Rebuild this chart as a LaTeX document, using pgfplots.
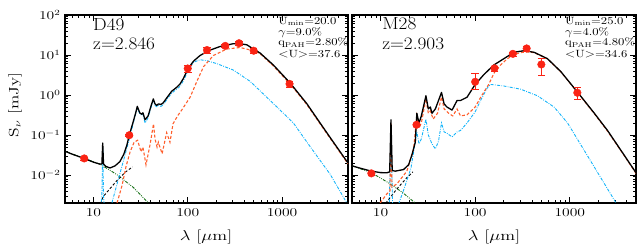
\documentclass[border=0pt]{standalone}
\usepackage{graphicx}
\usepackage{pgfplots}
\pgfplotsset{compat=1.18}
\definecolor{cred}{RGB}{250,35,20}
\definecolor{corange}{RGB}{255,95,45}
\definecolor{cblue}{RGB}{20,180,250}
\definecolor{cgreen}{RGB}{20,110,20}
\newcommand\W[1]{\scalebox{1.3}[1]{#1}}
\newcommand\V[1]{\scalebox{1.1}[1]{#1}}
\newcommand\Q[1]{\scalebox{1.2}[1]{#1}}
\tikzset{
  tot/.style={black, line width=1.3pt, line join=round},
  cold/.style={corange, line width=1.1pt, dash pattern=on 3pt off 2pt},
  pdr/.style={cblue, line width=0.9pt, dash pattern=on 3pt off 1.3pt on 0.8pt off 1.3pt},
  star/.style={cgreen, line width=0.9pt, dash pattern=on 3pt off 1.3pt on 0.8pt off 1.3pt on 0.8pt off 1.3pt},
  hot/.style={black, line width=0.9pt, dash pattern=on 2.5pt off 2pt},
  big/.style={anchor=base west, inner sep=0pt, font=\fontsize{17.5}{19}\selectfont},
  par/.style={anchor=base west, inner sep=0pt, font=\fontsize{10.5}{11}\selectfont},
}
\begin{document}
\begin{tikzpicture}[x=1pt,y=1pt]
\useasboundingbox (0,0) rectangle (642,248);
% ---------------- left panel: D49 ----------------
\begin{axis}[at={(65pt,45pt)}, anchor=south west, width=283pt,
    scale only axis, height=188pt,
    xmode=log, ymode=log, xmin=5, xmax=5000, ymin=2e-3, ymax=100,
    axis line style={line width=1.1pt},
    tick align=inside, major tick length=6pt, minor tick length=3pt,
    tick style={black, line width=0.8pt},
    xtick={10,100,1000}, xticklabels={\W{10},\W{100},\W{1000}},
    minor xtick={6,7,8,9,20,30,40,50,60,70,80,90,200,300,400,500,600,700,800,900,2000,3000,4000},
    ytick={0.01,0.1,1,10,100},
    yticklabels={\W{10$^{-2}$},\W{10$^{-1}$},\W{10$^{0}$},\W{10$^{1}$},\W{10$^{2}$}},
    minor ytick={0.003,0.004,0.005,0.006,0.007,0.008,0.009,0.02,0.03,0.04,0.05,0.06,0.07,0.08,0.09,0.2,0.3,0.4,0.5,0.6,0.7,0.8,0.9,2,3,4,5,6,7,8,9,20,30,40,50,60,70,80,90},
    tick label style={font=\fontsize{12}{13}\selectfont},
    xticklabel style={yshift=-2pt}, yticklabel style={xshift=-1pt}]
\addplot[star, no marks] coordinates {(5,0.0394) (8,0.026) (11.75,0.0187) (17.7,0.0103) (26.5,0.0049) (36.8,0.0022) (42,0.0016)};
\addplot[hot, no marks] coordinates {(11.5,0.0015) (12.7,0.0029) (17.7,0.0072) (22,0.012) (26,0.016)};
\addplot[pdr, no marks] coordinates {(11.5,0.0005) (12.3,0.003) (12.56,0.05) (12.8,0.003) (13.5,0.0006) (15.7,0.002) (18.2,0.0072) (20.7,0.0217) (22.8,0.05) (24.6,0.097) (26.5,0.2) (28,0.33) (29.2,0.49) (31,0.34) (32.5,0.31) (33.5,0.33) (35.3,0.2) (38,0.27) (41,0.5) (43,0.72) (45,0.55) (46.9,0.51) (49,0.55) (52,0.52) (55,0.57) (60,0.77) (67.7,1.12) (75,1.35) (83,1.65) (90,2.3) (101,4.0) (115,6.6) (135,7.6) (160,7.2) (203,6.1) (305,4.2) (458,2.2) (689,0.88) (1033,0.35) (1318,0.2) (2000,0.05) (3230,0.0105) (4860,0.002) (6000,0.0008)};
\addplot[cold, no marks] coordinates {(17.8,0.002) (20.1,0.0054) (22.2,0.0165) (24.5,0.038) (27,0.066) (29.4,0.074) (32,0.038) (33.5,0.05) (36.1,0.018) (40,0.06) (43.4,0.19) (45,0.08) (47.3,0.05) (48.8,0.066) (53.5,0.034) (59.8,0.115) (64.8,0.066) (69.8,0.19) (78,0.3) (86.3,0.42) (106,0.88) (125,2.2) (147,5.1) (187,9.7) (259,14.1) (359,15.4) (497,12.8) (585,10.8) (810,5.3) (1217,1.9) (1828,0.58) (2530,0.19) (3230,0.083) (5000,0.019)};
\addplot[tot, no marks] coordinates {(5,0.0394) (6,0.033) (8,0.026) (10,0.021) (11.75,0.0187) (12.3,0.019) (12.56,0.063) (12.8,0.019) (13.5,0.0165) (15,0.015) (17,0.017) (19.1,0.0217) (21,0.033) (22.6,0.055) (24,0.099) (26.5,0.22) (28,0.35) (29.2,0.52) (31,0.36) (32.5,0.33) (33.5,0.36) (35.3,0.24) (38,0.3) (41,0.55) (43.2,0.80) (45,0.6) (46.9,0.55) (49,0.6) (52,0.58) (55,0.64) (60,0.85) (67.7,1.25) (75,1.5) (83,1.9) (90,2.6) (101,4.6) (115,7.0) (135,9.7) (166,12.8) (220,16.3) (305,19.2) (350,19.3) (423,18.0) (500,14.0) (585,11.2) (810,5.6) (1217,2.0) (1828,0.61) (2530,0.2) (3230,0.087) (5000,0.02)};
\addplot[only marks, mark=*, mark size=3.8pt, color=cred,
  error bars/.cd, y dir=both, y explicit,
  error bar style={cred, line width=0.8pt}]
  coordinates {(8,0.026) +- (0,0.002) (24,0.099) +- (0,0.008) (100,4.6) +- (0,0.9) (160,13.3) +- (0,2.5) (250,16.9) +- (0,1.5) (350,19.7) +- (0,2) (500,12.8) +- (0,2) (1200,1.9) +- (0,0.3)};
\node[big] at (rel axis cs:0.099,0.92) {\V{D49}};
\node[big] at (rel axis cs:0.099,0.814) {\V{z=2.846}};
\node[par] at (rel axis cs:0.753,0.952) {\Q{U$_{\rm min}$=20.0}};
\node[par] at (rel axis cs:0.753,0.893) {\Q{$\gamma$=9.0\%}};
\node[par] at (rel axis cs:0.753,0.836) {\Q{q$_{\rm PAH}$=2.80\%}};
\node[par] at (rel axis cs:0.753,0.772) {\Q{$<$U$>$=37.6}};
\end{axis}
% ---------------- right panel: M28 ----------------
\begin{axis}[at={(352pt,45pt)}, anchor=south west, width=284pt, yticklabels={},
    scale only axis, height=188pt,
    xmode=log, ymode=log, xmin=5, xmax=5000, ymin=2e-3, ymax=100,
    axis line style={line width=1.1pt},
    tick align=inside, major tick length=6pt, minor tick length=3pt,
    tick style={black, line width=0.8pt},
    xtick={10,100,1000}, xticklabels={\W{10},\W{100},\W{1000}},
    minor xtick={6,7,8,9,20,30,40,50,60,70,80,90,200,300,400,500,600,700,800,900,2000,3000,4000},
    ytick={0.01,0.1,1,10,100},
    minor ytick={0.003,0.004,0.005,0.006,0.007,0.008,0.009,0.02,0.03,0.04,0.05,0.06,0.07,0.08,0.09,0.2,0.3,0.4,0.5,0.6,0.7,0.8,0.9,2,3,4,5,6,7,8,9,20,30,40,50,60,70,80,90},
    tick label style={font=\fontsize{12}{13}\selectfont},
    xticklabel style={yshift=-2pt}]
\addplot[star, no marks] coordinates {(5,0.017) (8,0.0115) (12,0.0065) (17,0.0037) (23.3,0.002) (26,0.0016)};
\addplot[hot, no marks] coordinates {(10,0.0013) (12.1,0.0024) (14.9,0.0045) (19,0.0086) (22,0.012)};
\addplot[pdr, no marks] coordinates {(12.3,0.001) (12.9,0.1) (13.5,0.001) (15,0.0015) (18,0.005) (21,0.015) (24.2,0.12) (25.5,0.06) (27,0.08) (30.2,0.25) (32,0.1) (35,0.06) (38,0.045) (41,0.07) (44.1,0.2) (47,0.12) (50.4,0.11) (57,0.09) (64.4,0.12) (70,0.13) (82,0.2) (100,0.38) (114,0.73) (134,1.5) (145,1.84) (201,1.68) (302,1.4) (454,0.96) (682,0.5) (946,0.2) (1540,0.03) (3080,0.002) (4000,0.0007)};
\addplot[cold, no marks] coordinates {(9.9,0.002) (11.7,0.0034) (12.6,0.004) (12.9,0.2) (13.2,0.005) (14.9,0.006) (19,0.0125) (22.4,0.046) (24.2,0.3) (25.5,0.15) (27,0.2) (30.2,0.8) (32,0.35) (33.6,0.4) (36,0.25) (40,0.35) (44.1,0.9) (47,0.45) (52.5,0.35) (58,0.3) (64.4,0.45) (70,0.3) (82,0.32) (100,0.5) (115,0.9) (139,1.84) (160,3.7) (185,5.6) (218,8.0) (257,10.2) (302,11.5) (350,11.9) (419,11.5) (580,8.0) (803,3.8) (1220,1.12) (1815,0.34) (2500,0.125) (3500,0.039) (5000,0.011)};
\addplot[tot, no marks] coordinates {(5,0.017) (6,0.015) (8,0.0125) (10,0.0115) (11.7,0.0114) (12.5,0.012) (12.9,0.24) (13.3,0.013) (14.3,0.0125) (17.5,0.0137) (19.8,0.018) (21.5,0.032) (23.3,0.066) (24.2,0.35) (25.5,0.2) (27,0.3) (30.2,0.96) (32,0.45) (33.6,0.5) (35,0.35) (38,0.45) (44.1,1.16) (47,0.6) (50.4,0.5) (57,0.42) (64.4,0.73) (70,0.73) (82,0.88) (100,1.84) (123,3.2) (157,5.6) (201,8.1) (257,11.7) (327,12.8) (419,11.7) (580,8.1) (803,3.85) (1220,1.14) (1815,0.35) (2500,0.13) (3500,0.04) (5000,0.0114)};
\addplot[only marks, mark=*, mark size=3.8pt, color=cred,
  error bars/.cd, y dir=both, y explicit,
  error bar style={cred, line width=0.8pt}]
  coordinates {(8,0.011) +- (0,0.001) (24,0.18) +- (0,0.015) (100,2.14) += (0,1.4) -= (0,0.75) (160,4.65) +- (0,0.6) (250,10.7) +- (0,1.2) (350,14.6) +- (0,2) (500,5.8) += (0,2.4) -= (0,2.6) (1200,1.14) += (0,0.42) -= (0,0.34)};
\node[big] at (rel axis cs:0.106,0.925) {\V{M28}};
\node[big] at (rel axis cs:0.106,0.819) {\V{z=2.903}};
\node[par] at (rel axis cs:0.75,0.952) {\Q{U$_{\rm min}$=25.0}};
\node[par] at (rel axis cs:0.75,0.893) {\Q{$\gamma$=4.0\%}};
\node[par] at (rel axis cs:0.75,0.836) {\Q{q$_{\rm PAH}$=4.80\%}};
\node[par] at (rel axis cs:0.75,0.772) {\Q{$<$U$>$=34.6}};
\end{axis}
% ---------------- axis titles ----------------
\node[rotate=90] at (15,143) {\fontsize{13.5}{15}\selectfont\W{S$_\nu$ [mJy]}};
\node at (206,11) {\fontsize{14}{16}\selectfont\W{$\lambda$ [$\mu$m]}};
\node at (494,11) {\fontsize{14}{16}\selectfont\W{$\lambda$ [$\mu$m]}};
\end{tikzpicture}
\end{document}
